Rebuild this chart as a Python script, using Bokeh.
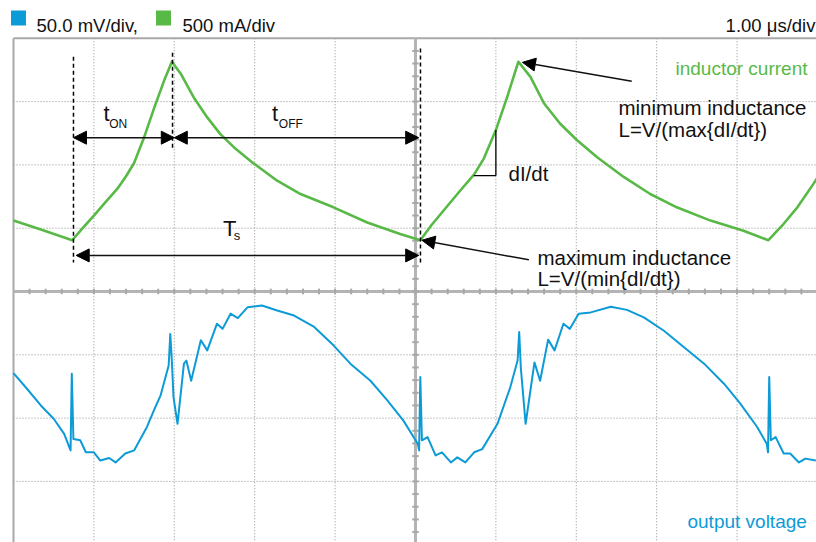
import numpy as np
from bokeh.plotting import figure
from bokeh.models import Arrow, NormalHead, Range1d
from bokeh.core.properties import value
from bokeh.embed import file_html
from bokeh.resources import INLINE

# ---------------- scope settings / labels ----------------
time_per_div_us = 1.00
current_per_div_mA = 500.0
voltage_per_div_mV = 50.0
legend_labels = ["50.0 mV/div,", "500 mA/div"]
timebase_label = "1.00 μs/div"
trace_labels = ["inductor current", "output voltage"]

# ---------------- inductor current (green) ----------------
# time in µs, current in mA relative to screen centre
t_current = [0.00, 0.34, 0.73, 0.86, 1.00, 1.15, 1.29, 1.40, 1.50, 1.62, 1.75, 1.87, 1.97,
             2.08, 2.24, 2.41, 2.57, 2.74, 2.99, 3.28, 3.57, 3.98, 4.40, 4.81, 5.06,
             5.20, 5.35, 5.56, 5.73, 5.85, 6.00, 6.14, 6.28,
             6.43, 6.60, 6.80, 7.01, 7.26, 7.59, 7.92, 8.25, 8.67, 9.08, 9.39,
             9.58, 9.75, 9.95, 10.00]
i_current_mA = [560, 490, 405, 500, 600, 710, 810, 910, 1015, 1210, 1450, 1660, 1815,
                1720, 1535, 1375, 1245, 1140, 1010, 875, 770, 665, 545, 455, 405,
                525, 640, 800, 925, 1050, 1275, 1535, 1815,
                1695, 1485, 1325, 1195, 1060, 905, 770, 665, 560, 480, 405,
                535, 665, 850, 900]

# ---------------- output voltage (blue) ----------------
# time in µs, voltage in mV relative to screen centre
t_voltage = [0.00, 0.17, 0.34, 0.50, 0.63, 0.71, 0.725, 0.745, 0.83, 0.90, 1.00,
             1.08, 1.19, 1.27, 1.39, 1.50, 1.66, 1.745, 1.83, 1.93, 1.95, 1.97, 1.99,
             2.04, 2.12, 2.15, 2.21, 2.33, 2.41, 2.53, 2.60, 2.70, 2.79, 2.91,
             3.09, 3.28, 3.49, 3.74, 3.98, 4.19, 4.44, 4.65, 4.85, 5.03, 5.045,
             5.06, 5.08, 5.15, 5.25, 5.33, 5.44, 5.52, 5.62, 5.73, 5.83, 6.02,
             6.18, 6.27, 6.29, 6.31, 6.37, 6.43, 6.48, 6.55, 6.65, 6.73, 6.84,
             6.92, 7.03, 7.18, 7.43, 7.63, 7.84, 8.09, 8.34, 8.59, 8.84, 9.04,
             9.25, 9.37, 9.385, 9.40, 9.42, 9.48, 9.58, 9.66, 9.77, 9.85, 9.98]
v_voltage_mV = [-64.5, -77.0, -90.0, -100.5, -112.5, -125.5, -65.0, -116.5, -117.5, -127.0, -127.0,
                -133.5, -131.5, -135.0, -128.0, -125.5, -107.0, -94.0, -82.0, -58.5, -33.5, -55.0, -83.5,
                -104.5, -57.0, -54.5, -70.5, -38.5, -46.5, -25.5, -29.5, -17.5, -21.0, -12.5,
                -11.0, -15.0, -19.0, -28.0, -42.5, -57.0, -70.5, -86.0, -102.0, -120.5, -125.5,
                -67.5, -117.5, -115.0, -129.5, -127.0, -135.0, -131.0, -135.0, -127.0, -124.5, -104.5,
                -75.5, -54.5, -32.0, -60.0, -104.5, -78.0, -56.0, -70.5, -38.0, -46.5, -25.5,
                -29.5, -17.5, -16.5, -12.0, -14.5, -20.5, -31.0, -44.0, -57.0, -73.0, -88.5,
                -107.0, -120.5, -127.0, -67.5, -117.5, -115.0, -128.0, -128.0, -135.0, -132.0, -133.5]

# ---------------- styling ----------------
GREEN = "#58b947"
BLUE = "#0d9bd7"
GRID = "#8f8f8f"
FRAME = "#a9a9a9"
FONT = value("Liberation Sans")

# screen in divisions: 10 horizontal, 8 vertical (-4..4); picture cropped at right/bottom
x0, x1 = -0.1617, 9.988
y0, y1 = -3.965, 4.597

p = figure(width=816, height=542, output_backend="svg", toolbar_location=None,
           x_range=Range1d(x0, x1), y_range=Range1d(y0, y1),
           min_border=0, min_border_left=0, min_border_right=0,
           min_border_top=0, min_border_bottom=0)
p.axis.visible = False
p.grid.visible = False
p.outline_line_color = None
p.background_fill_color = "white"
p.border_fill_color = "white"

# dotted graticule
vx = [d for d in range(1, 10) if d != 5]
p.segment(x0=vx, y0=[4] * len(vx), x1=vx, y1=[y0] * len(vx),
          line_color=GRID, line_width=1, line_dash="1 2")
hy = [d for d in range(-3, 4) if d != 0]
p.segment(x0=[0] * len(hy), y0=hy, x1=[x1] * len(hy), y1=hy,
          line_color=GRID, line_width=1, line_dash="1 2")

# frame border (top + left)
p.segment(x0=[0, 0], y0=[4, 4], x1=[x1, 0], y1=[4, y0], line_color=FRAME, line_width=2)

# centre cross-hair with minor ticks
p.segment(x0=[5, 0], y0=[4, 0], x1=[5, x1], y1=[y0, 0], line_color="#b4b4b4", line_width=3)
ty = np.round(np.arange(4 - 0.2, y0, -0.2), 3)
p.segment(x0=[5 - 0.04] * len(ty), y0=ty, x1=[5 + 0.04] * len(ty), y1=ty,
          line_color="#a8a8a8", line_width=2)
tx = np.round(np.arange(0.2, x1, 0.2), 3)
p.segment(x0=tx, y0=[-0.045] * len(tx), x1=tx, y1=[0.045] * len(tx),
          line_color="#a8a8a8", line_width=2)

# traces (converted to screen divisions)
cur_div = np.array(i_current_mA) / current_per_div_mA
volt_div = np.array(v_voltage_mV) / voltage_per_div_mV
p.line(np.array(t_current) / time_per_div_us, cur_div, line_color=GREEN, line_width=2.6,
       line_join="round")
p.line(np.array(t_voltage) / time_per_div_us, volt_div, line_color=BLUE, line_width=2,
       line_join="round")

# header: channel legend and timebase
p.scatter(x=[0.062, 1.866], y=[4.32, 4.32], marker="square", size=15,
          fill_color=[BLUE, GREEN], line_color=None)
p.text(x=[0.286, 2.102], y=[4.20, 4.20], text=legend_labels, text_font=FONT,
       text_font_size=value("18.5px"), text_color="#111111", text_baseline="alphabetic")
p.text(x=[9.975], y=[4.20], text=[timebase_label], text_font=FONT,
       text_font_size=value("18.5px"), text_color="#111111", text_baseline="alphabetic",
       text_align="right")

# trace names
p.text(x=[8.234], y=[3.523], text=[trace_labels[0]], text_font=FONT,
       text_font_size=value("19px"), text_color=GREEN, text_baseline="alphabetic")
p.text(x=[8.383], y=[-3.626], text=[trace_labels[1]], text_font=FONT,
       text_font_size=value("19px"), text_color=BLUE, text_baseline="alphabetic")

# dashed markers
p.segment(x0=[0.746, 1.978, 5.062], y0=[3.71, 3.77, 3.84],
          x1=[0.746, 1.978, 5.062], y1=[0.46, 2.23, 0.46],
          line_color="black", line_width=1.5, line_dash="4 3")


def arrow(xs, ys, xe, ye, both=False):
    kw = dict(x_start=xs, y_start=ys, x_end=xe, y_end=ye, line_color="#111111", line_width=1.5,
              end=NormalHead(size=13, fill_color="black", line_color="black", line_width=1))
    if both:
        kw["start"] = NormalHead(size=13, fill_color="black", line_color="black", line_width=1)
    else:
        kw["start"] = None
    p.add_layout(Arrow(**kw))


arrow(0.746, 2.43, 2.00, 2.43, both=True)    # t_on
arrow(2.00, 2.43, 5.04, 2.43, both=True)     # t_off
arrow(0.78, 0.57, 5.04, 0.57, both=True)     # T_s
arrow(7.69, 3.32, 6.33, 3.62)                # minimum inductance
arrow(6.41, 0.50, 5.08, 0.81)                # maximum inductance

# dI/dt slope triangle
p.segment(x0=[6.00, 5.725], y0=[2.55, 1.83], x1=[6.00, 6.00], y1=[1.83, 1.83],
          line_color="black", line_width=1.3)

# t_on / t_off / T_s labels (main letter + subscript)
p.text(x=[1.12, 3.215], y=[2.81, 2.81], text=["t", "t"], text_font=FONT,
       text_font_size=value("22px"), text_color="#111111", text_baseline="alphabetic")
p.text(x=[1.19, 3.30], y=[2.64, 2.64], text=["ON", "OFF"], text_font=FONT,
       text_font_size=value("12px"), text_color="#111111", text_baseline="alphabetic")
p.text(x=[2.606], y=[0.995], text=["T"], text_font=FONT,
       text_font_size=value("22px"), text_color="#111111", text_baseline="alphabetic")
p.text(x=[2.74], y=[0.89], text=["s"], text_font=FONT,
       text_font_size=value("13px"), text_color="#111111", text_baseline="alphabetic")

# explanatory annotations
p.text(x=[7.525, 7.525, 6.157, 6.517, 6.517],
       y=[2.91, 2.56, 1.86, 0.537, 0.21],
       text=["minimum inductance", "L=V/(max{dI/dt})", "dI/dt",
             "maximum inductance", "L=V/(min{dI/dt})"],
       text_font=FONT, text_font_size=value("20.5px"), text_color="#111111",
       text_baseline="alphabetic")

open("out.html", "w").write(file_html(p, INLINE))
